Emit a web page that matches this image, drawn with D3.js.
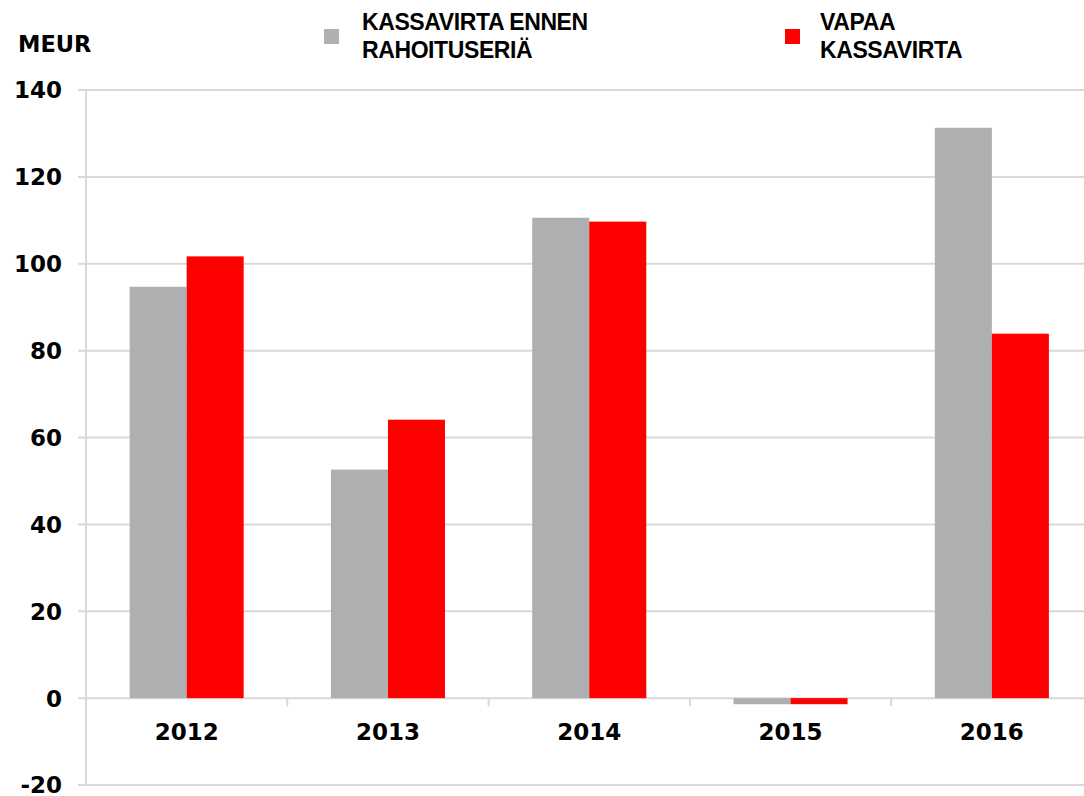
<!DOCTYPE html>
<html><head><meta charset="utf-8">
<script src="https://cdn.jsdelivr.net/npm/d3@7"></script>
<style>body{margin:0;background:#fff}svg{display:block}</style>
</head><body>
<script>
const categories = ["2012","2013","2014","2015","2016"];
const seriesNames = ["KASSAVIRTA ENNEN RAHOITUSERIÄ","VAPAA KASSAVIRTA"];
const cashBeforeFinancing = [94.7, 52.6, 110.6, -1.4, 131.3];
const freeCashFlow = [101.7, 64.1, 109.7, -1.4, 83.9];
const yTicks = [-20, 0, 20, 40, 60, 80, 100, 120, 140];
const colors = ["#aeafb1", "#ff0000"];

(function () {
const W = 1084, H = 796;
const svg = d3.select("body").append("svg").attr("width", W).attr("height", H);
const mLeft = 86, mRight = 1092.5, mTop = 90, mBottom = 785;
const y = d3.scaleLinear().domain([-20, 140]).range([mBottom, mTop]);
const x = d3.scaleBand().domain(categories).range([mLeft, mRight]);
const xs = d3.scaleBand().domain([0,1]).range([0, x.bandwidth()]).paddingInner(0).paddingOuter(0.765);

const grid = "#d9d9d9";
svg.append("g").selectAll("line").data(yTicks).join("line")
  .attr("x1", mLeft - 8).attr("x2", W).attr("y1", d => y(d)).attr("y2", d => y(d))
  .attr("stroke", grid).attr("stroke-width", 2);
svg.append("line").attr("x1", mLeft).attr("x2", mLeft).attr("y1", mTop).attr("y2", mBottom)
  .attr("stroke", grid).attr("stroke-width", 2);
svg.append("g").selectAll("line").data(categories.slice(1)).join("line")
  .attr("x1", d => x(d)).attr("x2", d => x(d)).attr("y1", y(0)).attr("y2", y(0) + 8)
  .attr("stroke", grid).attr("stroke-width", 2);

const series = [cashBeforeFinancing, freeCashFlow];
series.forEach((vals, si) => {
  svg.append("g").selectAll("rect").data(vals).join("rect")
    .attr("x", (d, i) => x(categories[i]) + xs(si))
    .attr("width", xs.bandwidth())
    .attr("y", d => y(Math.max(0, d)))
    .attr("height", d => Math.abs(y(d) - y(0)))
    .attr("fill", colors[si]);
});

const numFont = "DejaVu Sans, Verdana, sans-serif";
svg.append("g").selectAll("text").data(yTicks).join("text")
  .attr("x", 62).attr("y", d => y(d)).attr("dy", "0.365em")
  .attr("text-anchor", "end")
  .attr("font-family", numFont).attr("font-weight", "bold")
  .attr("font-size", 23).attr("fill", "#000").text(d => d);

svg.append("g").selectAll("text").data(categories).join("text")
  .attr("x", d => x(d) + x.bandwidth() / 2).attr("y", 740)
  .attr("text-anchor", "middle")
  .attr("font-family", numFont).attr("font-weight", "bold")
  .attr("font-size", 23).attr("fill", "#000").text(d => d);

svg.append("text").attr("x", 18).attr("y", 52)
  .attr("font-family", numFont).attr("font-weight", "bold")
  .attr("font-size", 22.5).attr("fill", "#000").text("MEUR");

const legendPos = [{sx: 324, tx: 362, lines: ["KASSAVIRTA ENNEN", "RAHOITUSERIÄ"]},
                   {sx: 785, tx: 820, lines: ["VAPAA", "KASSAVIRTA"]}];
legendPos.forEach((lp, i) => {
  svg.append("rect").attr("x", lp.sx).attr("y", 29).attr("width", 15).attr("height", 15).attr("fill", colors[i]);
  const t = svg.append("text")
    .attr("font-family", "Liberation Sans Narrow, Arial Narrow, sans-serif").attr("font-weight", "bold")
    .attr("font-size", 23).attr("letter-spacing", -0.4).attr("fill", "#000");
  lp.lines.forEach((ln, j) => t.append("tspan").attr("x", lp.tx).attr("y", 30 + j * 28).text(ln));
});
})();
</script>
</body></html>
